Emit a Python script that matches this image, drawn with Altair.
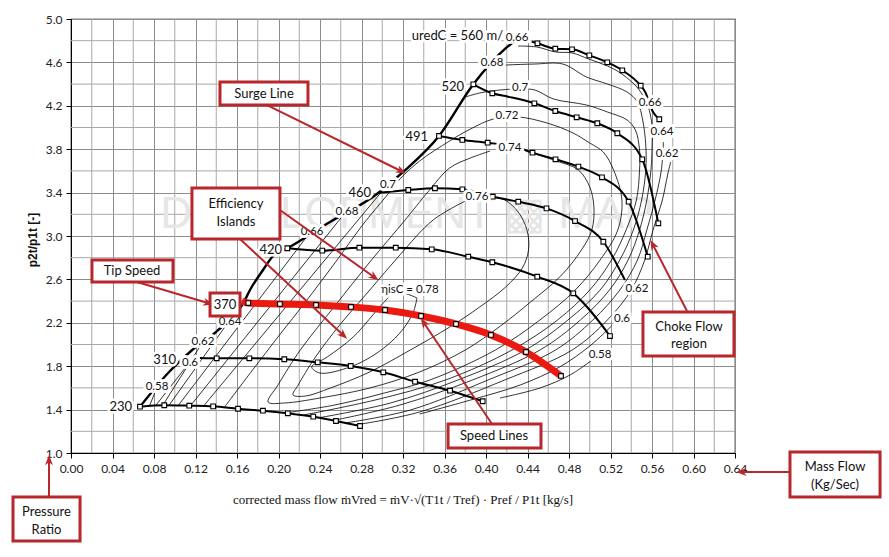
import math
import altair as alt
import pandas as pd

# ---------------- axes ----------------
X_TICKS = [0.00, 0.04, 0.08, 0.12, 0.16, 0.20, 0.24, 0.28, 0.32, 0.36, 0.40, 0.44, 0.48, 0.52, 0.56, 0.60, 0.64]
X_MINOR = [0.02, 0.06, 0.10, 0.14, 0.18, 0.22, 0.26, 0.30, 0.34, 0.38, 0.42, 0.46, 0.50, 0.54, 0.58, 0.62]
Y_TICKS = [1.0, 1.4, 1.8, 2.2, 2.6, 3.0, 3.4, 3.8, 4.2, 4.6, 5.0]
Y_MINOR = [1.2, 1.6, 2.0, 2.4, 2.8, 3.2, 3.6, 4.0, 4.4, 4.8]
X_DOMAIN = [0.0, 0.64]
Y_DOMAIN = [1.0, 5.0]
W, H = 664, 434

# ---------------- speed lines (x, y, marker flag) ----------------
spd230_x = [0.0665, 0.0899, 0.114, 0.137, 0.161, 0.185, 0.209, 0.2335, 0.2554, 0.2786]
spd230_y = [1.427, 1.440, 1.436, 1.430, 1.408, 1.390, 1.366, 1.335, 1.295, 1.249]
spd230_m = [1, 1, 1, 1, 1, 1, 1, 1, 1, 1]

spd310_x = [0.1243, 0.1404, 0.1719, 0.2056, 0.2378, 0.2696, 0.3010, 0.3316, 0.3653, 0.3968]
spd310_y = [1.876, 1.873, 1.873, 1.864, 1.836, 1.802, 1.744, 1.657, 1.574, 1.477]
spd310_m = [0, 1, 1, 1, 1, 1, 1, 1, 1, 1]

spd370_x = [0.1648, 0.1709, 0.2014, 0.2362, 0.2699, 0.3027, 0.3374, 0.3711, 0.4048, 0.4386, 0.4723]
spd370_y = [2.401, 2.382, 2.373, 2.364, 2.346, 2.318, 2.263, 2.189, 2.088, 1.931, 1.710]
spd370_m = [0, 1, 1, 1, 1, 1, 1, 1, 1, 1, 1]

spd420_x = [0.2085, 0.2422, 0.2779, 0.3130, 0.3477, 0.3829, 0.4061, 0.4494, 0.4841, 0.5195]
spd420_y = [2.887, 2.865, 2.892, 2.892, 2.877, 2.809, 2.758, 2.625, 2.472, 2.078]
spd420_m = [1, 1, 1, 1, 1, 1, 1, 1, 1, 1]

spd460_x = [0.2949, 0.3251, 0.3508, 0.3772, 0.4065, 0.4311, 0.4583, 0.4858, 0.5131, 0.5339]
spd460_y = [3.396, 3.424, 3.440, 3.430, 3.362, 3.316, 3.255, 3.138, 2.947, 2.594]
spd460_m = [0, 1, 1, 1, 1, 1, 1, 1, 1, 0]

spd491_x = [0.3547, 0.3772, 0.4016, 0.4328, 0.4448, 0.4670, 0.4891, 0.5118, 0.5375, 0.5559]
spd491_y = [3.922, 3.885, 3.860, 3.811, 3.768, 3.707, 3.639, 3.541, 3.316, 2.809]
spd491_m = [1, 1, 1, 0, 1, 1, 1, 1, 1, 1]

spd520_x = [0.3878, 0.4061, 0.4212, 0.4466, 0.4668, 0.4874, 0.5073, 0.5266, 0.5506, 0.5661]
spd520_y = [4.398, 4.315, 4.284, 4.223, 4.152, 4.094, 4.039, 3.947, 3.707, 3.117]
spd520_m = [1, 1, 0, 1, 1, 1, 1, 1, 1, 1]

spd560_x = [0.4441, 0.4496, 0.4668, 0.4829, 0.4996, 0.5169, 0.5314, 0.5491, 0.5533, 0.5610, 0.5670]
spd560_y = [4.791, 4.776, 4.726, 4.721, 4.665, 4.601, 4.527, 4.385, 4.330, 4.143, 4.076]
spd560_m = [0, 1, 1, 1, 1, 1, 1, 1, 0, 0, 1]

surge_x = [0.0665, 0.0954, 0.1157, 0.1407, 0.1667, 0.1725, 0.1851, 0.1947, 0.2085, 0.2496, 0.2949, 0.3190, 0.3547, 0.3878, 0.4183, 0.4347]
surge_y = [1.427, 1.756, 1.940, 2.124, 2.392, 2.502, 2.687, 2.816, 2.887, 3.129, 3.387, 3.581, 3.922, 4.398, 4.724, 4.843]

# ---------------- efficiency contours ----------------
c58_left = [(0.083, 1.608), (0.076, 1.442)]
c58_right = [(0.4135, 1.507), (0.452, 1.599), (0.481, 1.719), (0.505, 1.876)]
c60_left = [(0.113, 1.820), (0.082, 1.442)]
c60_right = [(0.336, 1.359), (0.385, 1.488), (0.433, 1.627), (0.471, 1.793), (0.500, 1.986), (0.521, 2.171)]
c62_left = [(0.127, 2.023), (0.088, 1.433)]
c62_right = [(0.578, 3.682), (0.575, 3.562), (0.570, 3.332), (0.561, 3.055), (0.553, 2.779), (0.540, 2.502),
             (0.517, 2.226), (0.483, 1.949), (0.418, 1.673), (0.336, 1.378), (0.274, 1.258)]
c64_left = [(0.151, 2.198), (0.094, 1.433)]
c64_right = [(0.571, 3.866), (0.569, 3.608), (0.563, 3.332), (0.555, 3.055), (0.546, 2.779), (0.529, 2.502),
             (0.503, 2.226), (0.467, 1.949), (0.402, 1.673), (0.327, 1.396), (0.264, 1.276)]
c66_left = [(0.230, 3.028), (0.103, 1.433)]
c66_right = [(0.431, 4.751), (0.449, 4.742), (0.467, 4.696), (0.483, 4.687), (0.499, 4.631), (0.517, 4.567),
             (0.531, 4.493), (0.547, 4.355), (0.556, 4.198), (0.560, 4.023), (0.560, 3.811), (0.559, 3.608),
             (0.555, 3.332), (0.548, 3.055), (0.537, 2.779), (0.519, 2.502), (0.491, 2.226), (0.452, 1.949),
             (0.387, 1.673), (0.317, 1.442), (0.255, 1.304)]
c68_left = [(0.264, 3.212), (0.115, 1.433)]
c68_right = [(0.403, 4.567), (0.420, 4.576), (0.447, 4.585), (0.474, 4.585), (0.497, 4.465), (0.517, 4.401),
             (0.536, 4.327), (0.546, 4.235), (0.551, 4.069), (0.554, 3.839), (0.554, 3.608), (0.550, 3.332),
             (0.542, 3.055), (0.529, 2.779), (0.510, 2.502), (0.479, 2.226), (0.438, 1.949), (0.373, 1.673),
             (0.308, 1.461), (0.238, 1.323)]
c70_left = [(0.304, 3.461), (0.127, 1.424)]
c70_right = [(0.380, 4.281), (0.394, 4.318), (0.414, 4.346), (0.433, 4.355), (0.447, 4.346), (0.465, 4.263),
             (0.497, 4.207), (0.517, 4.143), (0.536, 4.069), (0.544, 3.977), (0.548, 3.793), (0.548, 3.608),
             (0.545, 3.332), (0.535, 3.055), (0.521, 2.779), (0.500, 2.502), (0.469, 2.226), (0.425, 1.949),
             (0.361, 1.673), (0.293, 1.488), (0.224, 1.350)]
c72 = [(0.148, 1.424), (0.175, 1.765), (0.201, 2.088), (0.226, 2.392), (0.255, 2.760), (0.281, 3.101),
       (0.304, 3.369), (0.317, 3.525), (0.336, 3.691), (0.365, 3.876), (0.385, 3.986), (0.407, 4.078),
       (0.431, 4.097), (0.459, 4.041), (0.484, 3.949), (0.500, 3.857), (0.513, 3.774), (0.523, 3.608),
       (0.531, 3.332), (0.527, 3.055), (0.510, 2.779), (0.486, 2.502), (0.452, 2.226), (0.409, 1.949),
       (0.346, 1.673), (0.302, 1.553), (0.254, 1.442), (0.206, 1.369)]
c74 = [(0.438, 3.783), (0.465, 3.700), (0.489, 3.608), (0.500, 3.452), (0.504, 3.267), (0.502, 3.055),
       (0.492, 2.871), (0.472, 2.631), (0.443, 2.392), (0.414, 2.171), (0.380, 1.949), (0.336, 1.747),
       (0.288, 1.599), (0.240, 1.507), (0.206, 1.461), (0.190, 1.470), (0.1995, 1.627), (0.221, 1.949),
       (0.255, 2.364), (0.288, 2.760), (0.322, 3.147), (0.344, 3.406), (0.365, 3.627), (0.385, 3.719),
       (0.404, 3.783)]
c76 = [(0.404, 3.359), (0.418, 3.332), (0.431, 3.221), (0.4395, 3.055), (0.441, 2.871), (0.435, 2.705),
       (0.419, 2.530), (0.394, 2.346), (0.365, 2.161), (0.327, 1.949), (0.288, 1.747), (0.250, 1.599),
       (0.226, 1.525), (0.214, 1.535), (0.219, 1.627), (0.235, 1.876), (0.259, 2.180), (0.288, 2.502),
       (0.317, 2.825), (0.349, 3.147), (0.382, 3.332)]
c78 = [(0.3335, 2.429), (0.3296, 2.290), (0.317, 2.106), (0.295, 1.922), (0.269, 1.793), (0.240, 1.737),
       (0.232, 1.793), (0.247, 1.885), (0.272, 2.069), (0.301, 2.382), (0.313, 2.484), (0.3335, 2.429)]

# ---------------- labels ----------------
eff_text = ["0.58", "0.6", "0.62", "0.64", "0.66", "0.68", "0.7",
            "0.66", "0.68", "0.7", "0.72", "0.74", "0.76", "ηisC = 0.78",
            "0.66", "0.64", "0.62", "0.62", "0.6", "0.58"]
eff_x = [0.0829, 0.1147, 0.1272, 0.1533, 0.2323, 0.2660, 0.3055,
         0.4299, 0.4058, 0.4328, 0.4202, 0.4231, 0.3913, 0.3267,
         0.5581, 0.5696, 0.5745, 0.5455, 0.5311, 0.5099]
eff_y = [1.608, 1.830, 2.023, 2.207, 3.037, 3.221, 3.470,
         4.825, 4.594, 4.364, 4.106, 3.811, 3.359, 2.502,
         4.226, 3.959, 3.756, 2.512, 2.235, 1.903]

spd_text = ["230", "310", "420", "460", "491", "520", "uredC = 560 m/"]
spd_lx = [0.0588, 0.1012, 0.2034, 0.2892, 0.3441, 0.3788, 0.4164]
spd_ly = [1.424, 1.857, 2.871, 3.396, 3.912, 4.373, 4.843]

# ---------------- annotations ----------------
box_x = [0.1436, 0.1166, 0.0202, 0.1340, 0.3634, 0.5513, 0.6930, -0.0559]
box_x2 = [0.2284, 0.2014, 0.0983, 0.1629, 0.4530, 0.6390, 0.7798, 0.0087]
box_y = [4.419, 3.442, 2.779, 2.475, 1.267, 2.300, 1.009, 0.594]
box_y2 = [4.207, 2.972, 2.576, 2.263, 1.046, 1.894, 0.594, 0.189]

ann_text = ["Surge Line", "Efficiency", "Islands", "Tip Speed", "370", "Speed Lines",
            "Choke Flow", "region", "Mass  Flow", "(Kg/Sec)", "Pressure", "Ratio"]
ann_x = [0.1860, 0.1590, 0.1590, 0.0588, 0.1484, 0.4077, 0.5957, 0.5957, 0.7364, 0.7364, -0.0236, -0.0236]
ann_y = [4.309, 3.295, 3.129, 2.677, 2.364, 1.157, 2.161, 2.005, 0.871, 0.705, 0.456, 0.290]

arrow_x0 = [0.1889, 0.2014, 0.1629, 0.0636, 0.4058, 0.5937, 0.6930, -0.0212]
arrow_y0 = [4.207, 3.240, 2.972, 2.576, 1.267, 2.309, 0.825, 0.594]
arrow_x1 = [0.3181, 0.2920, 0.2622, 0.1320, 0.3402, 0.5610, 0.6467, -0.0212]
arrow_y1 = [3.599, 2.622, 2.088, 2.382, 2.198, 2.917, 0.825, 0.930]

# ---------------- helpers ----------------
xscale = alt.Scale(domain=X_DOMAIN, nice=False, zero=False)
yscale = alt.Scale(domain=Y_DOMAIN, nice=False, zero=False)
xaxis = alt.Axis(values=X_TICKS, format=".2f", title=None, grid=True, gridColor="#8c8c8c",
                 tickColor="black", domainColor="black", tickSize=5, labelFont="Lato",
                 labelFontSize=12, labelColor="#222222", labelPadding=5, labelOverlap=False,
                 labelFlush=False)
yaxis = alt.Axis(values=Y_TICKS, format=".1f", title=None, grid=True, gridColor="#8c8c8c",
                 tickColor="black", domainColor="black", tickSize=5, labelFont="Lato",
                 labelFontSize=12, labelColor="#222222", labelPadding=4, labelOverlap=False,
                 labelFlush=False)


def X(f="x"):
    return alt.X(f + ":Q", scale=xscale, axis=xaxis)


def Y(f="y"):
    return alt.Y(f + ":Q", scale=yscale, axis=yaxis)


def pieces_df(pieces):
    rows = []
    for name, pts in pieces:
        for i, (a, b) in enumerate(pts):
            rows.append({"piece": name, "order": i, "x": a, "y": b})
    return pd.DataFrame(rows)


SPEEDS = [("230", spd230_x, spd230_y, spd230_m), ("310", spd310_x, spd310_y, spd310_m),
          ("370", spd370_x, spd370_y, spd370_m), ("420", spd420_x, spd420_y, spd420_m),
          ("460", spd460_x, spd460_y, spd460_m), ("491", spd491_x, spd491_y, spd491_m),
          ("520", spd520_x, spd520_y, spd520_m), ("560", spd560_x, spd560_y, spd560_m)]
rows = []
for name, xs_, ys_, ms in SPEEDS:
    for i, (a, b, m) in enumerate(zip(xs_, ys_, ms)):
        rows.append({"speed": name, "order": i, "x": a, "y": b, "marker": m})
speed_df = pd.DataFrame(rows)
red_df = speed_df[speed_df["speed"] == "370"]
surge_df = pd.DataFrame({"x": surge_x, "y": surge_y, "order": list(range(len(surge_x)))})

CONTOURS = [("58l", c58_left), ("58r", c58_right), ("60l", c60_left), ("60r", c60_right),
            ("62l", c62_left), ("62r", c62_right), ("64l", c64_left), ("64r", c64_right),
            ("66l", c66_left), ("66r", c66_right), ("68l", c68_left), ("68r", c68_right),
            ("70l", c70_left), ("70r", c70_right), ("72", c72), ("74", c74), ("76", c76), ("78", c78)]
cont_df = pieces_df(CONTOURS)

eff_df = pd.DataFrame({"text": eff_text, "x": eff_x, "y": eff_y})
spd_lab_df = pd.DataFrame({"text": spd_text, "x": spd_lx, "y": spd_ly})
box_df = pd.DataFrame({"x": box_x, "x2": box_x2, "y": box_y, "y2": box_y2})
ann_df = pd.DataFrame({"text": ann_text, "x": ann_x, "y": ann_y})

px_x = W / (X_DOMAIN[1] - X_DOMAIN[0])
px_y = H / (Y_DOMAIN[1] - Y_DOMAIN[0])
angles = []
for a0, b0, a1, b1 in zip(arrow_x0, arrow_y0, arrow_x1, arrow_y1):
    dx = (a1 - a0) * px_x
    dy = -(b1 - b0) * px_y
    angles.append((math.degrees(math.atan2(dx, -dy)) + 360) % 360)
arrow_df = pd.DataFrame({"x": arrow_x0, "y": arrow_y0, "x2": arrow_x1, "y2": arrow_y1,
                         "tx": arrow_x1, "ty": arrow_y1, "angle": angles})

RED = "#b8272c"
FONT = "Lato, Open Sans, DejaVu Sans"

# ---------------- layers ----------------
grid_x = alt.Chart(pd.DataFrame({"x": X_MINOR})).mark_rule(color="#a9a9a9", strokeWidth=1).encode(x=X())
grid_y = alt.Chart(pd.DataFrame({"y": Y_MINOR})).mark_rule(color="#a9a9a9", strokeWidth=1).encode(y=Y())

watermark = alt.Chart(pd.DataFrame({"text": ["DEVELOPMENT  ▩  MAP"], "x": [0.3239], "y": [3.194]})).mark_text(
    fontSize=44, font="Liberation Sans", color="#e6e6e6", baseline="middle", align="center"
).encode(x=X(), y=Y(), text="text:N")

contours = alt.Chart(cont_df).mark_line(color="black", strokeWidth=0.8, interpolate="catmull-rom").encode(
    x=X(), y=Y(), detail="piece:N", order="order:Q")

surge = alt.Chart(surge_df).mark_line(color="black", strokeWidth=2.4, interpolate="monotone").encode(
    x=X(), y=Y(), order="order:Q")

speed = alt.Chart(speed_df).mark_line(color="black", strokeWidth=2, interpolate="monotone").encode(
    x=X(), y=Y(), detail="speed:N", order="order:Q")

red_line = alt.Chart(red_df).mark_line(color="#ea1a10", strokeWidth=7, interpolate="monotone",
                                       strokeCap="butt").encode(x=X(), y=Y(), order="order:Q")

markers = alt.Chart(speed_df).transform_filter("datum.marker == 1").mark_square(
    size=22, fill="white", stroke="black", strokeWidth=1.1, opacity=1).encode(x=X(), y=Y())

eff_halo = alt.Chart(eff_df).mark_text(fontSize=11.5, font=FONT, color="white", stroke="white",
                                       strokeWidth=6, strokeJoin="round").encode(x=X(), y=Y(), text="text:N")
eff_lab = alt.Chart(eff_df).mark_text(fontSize=11.5, font=FONT, color="#111111").encode(
    x=X(), y=Y(), text="text:N")

spd_halo = alt.Chart(spd_lab_df).mark_text(fontSize=13, font=FONT, color="white", stroke="white",
                                           strokeWidth=5, align="right").encode(x=X(), y=Y(), text="text:N")
spd_lab = alt.Chart(spd_lab_df).mark_text(fontSize=13, font=FONT, color="#111111", align="right").encode(
    x=X(), y=Y(), text="text:N")

boxes = alt.Chart(box_df).mark_rect(fill="white", stroke=RED, strokeWidth=3).encode(
    x=X(), x2="x2:Q", y=Y(), y2="y2:Q")
ann = alt.Chart(ann_df).mark_text(fontSize=13, font=FONT, color="#111111").encode(
    x=X(), y=Y(), text="text:N")

arrow_lines = alt.Chart(arrow_df).mark_rule(color=RED, strokeWidth=2).encode(
    x=X(), y=Y(), x2="x2:Q", y2="y2:Q")
arrow_heads = alt.Chart(arrow_df).mark_point(
    shape="M0,-1L0.7,0.8L0,0.3L-0.7,0.8Z", size=130, filled=True, color=RED, opacity=1
).encode(x=X("tx"), y=Y("ty"), angle=alt.Angle("angle:Q", scale=None))

ytitle = alt.Chart(pd.DataFrame({"text": ["p2t/p1t [-]"], "x": [-0.0366], "y": [2.963]})).mark_text(
    angle=270, fontSize=12, fontWeight="bold", font="Liberation Sans", color="#111111"
).encode(x=X(), y=Y(), text="text:N")

formula = alt.Chart(pd.DataFrame({"text": ["corrected mass flow    ṁVred = ṁV·√(T1t / Tref) · Pref / P1t   [kg/s]"],
                                  "x": [0.3200], "y": [0.567]})).mark_text(
    fontSize=13, font="Liberation Serif", color="#111111"
).encode(x=X(), y=Y(), text="text:N")

chart = alt.layer(
    grid_x, grid_y, watermark, contours, surge, speed, red_line, markers,
    eff_halo, eff_lab, spd_halo, spd_lab,
    arrow_lines, arrow_heads, boxes, ann, ytitle, formula
).properties(
    width=W, height=H,
    autosize=alt.AutoSizeParams(type="none"),
    padding={"left": 71, "top": 19, "right": 154, "bottom": 104},
    background="white"
).configure_view(stroke="black", strokeWidth=1.2)

chart.save("out.html", embed_options={"renderer": "svg", "actions": False})
